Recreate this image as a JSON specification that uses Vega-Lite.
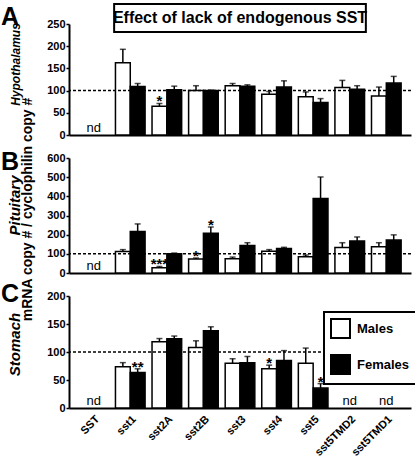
{
  "$schema": "https://vega.github.io/schema/vega-lite/v6.json",
  "background": "white",
  "padding": {"left": 0, "top": 3, "right": 0, "bottom": 0},
  "bounds": "flush",
  "spacing": 23,
  "resolve": {"scale": {"x": "independent", "y": "independent", "fill": "independent"}, "legend": {"fill": "independent"}},
  "config": {
    "font": "Liberation Sans",
    "view": {"stroke": null},
    "axis": {"labelFontWeight": "bold", "labelFontSize": 11, "labelColor": "black", "labelOverlap": false, "labelBound": false, "domainColor": "black", "domainWidth": 2, "tickColor": "black", "tickWidth": 1.5, "tickSize": 3, "labelPadding": 1, "grid": false, "titleColor": "black", "titleFontWeight": "bold"},
    "legend": {"strokeWidth": 2},
    "text": {"color": "black"}
  },
  "datasets": {
    "hypo": [
      {"gene": "sst1", "sex": "Males", "value": 163, "upper": 193},
      {"gene": "sst1", "sex": "Females", "value": 109, "upper": 116},
      {"gene": "sst2A", "sex": "Males", "value": 65, "upper": 71, "star": "*"},
      {"gene": "sst2A", "sex": "Females", "value": 102, "upper": 110},
      {"gene": "sst2B", "sex": "Males", "value": 100, "upper": 111},
      {"gene": "sst2B", "sex": "Females", "value": 100, "upper": 101},
      {"gene": "sst3", "sex": "Males", "value": 111, "upper": 116},
      {"gene": "sst3", "sex": "Females", "value": 110, "upper": 113},
      {"gene": "sst4", "sex": "Males", "value": 92, "upper": 98},
      {"gene": "sst4", "sex": "Females", "value": 108, "upper": 122},
      {"gene": "sst5", "sex": "Males", "value": 86, "upper": 97},
      {"gene": "sst5", "sex": "Females", "value": 73, "upper": 82},
      {"gene": "sst5TMD2", "sex": "Males", "value": 107, "upper": 123},
      {"gene": "sst5TMD2", "sex": "Females", "value": 103, "upper": 111},
      {"gene": "sst5TMD1", "sex": "Males", "value": 88, "upper": 108},
      {"gene": "sst5TMD1", "sex": "Females", "value": 117, "upper": 132}
    ],
    "pit": [
      {"gene": "sst1", "sex": "Males", "value": 112, "upper": 122},
      {"gene": "sst1", "sex": "Females", "value": 217, "upper": 256},
      {"gene": "sst2A", "sex": "Males", "value": 27, "upper": 34, "star": "***"},
      {"gene": "sst2A", "sex": "Females", "value": 101, "upper": 104},
      {"gene": "sst2B", "sex": "Males", "value": 73, "upper": 78, "star": "*"},
      {"gene": "sst2B", "sex": "Females", "value": 208, "upper": 240, "star": "*"},
      {"gene": "sst3", "sex": "Males", "value": 75, "upper": 83},
      {"gene": "sst3", "sex": "Females", "value": 144, "upper": 158},
      {"gene": "sst4", "sex": "Males", "value": 114, "upper": 122},
      {"gene": "sst4", "sex": "Females", "value": 128, "upper": 134},
      {"gene": "sst5", "sex": "Males", "value": 85, "upper": 94},
      {"gene": "sst5", "sex": "Females", "value": 389, "upper": 501},
      {"gene": "sst5TMD2", "sex": "Males", "value": 133, "upper": 158},
      {"gene": "sst5TMD2", "sex": "Females", "value": 167, "upper": 188},
      {"gene": "sst5TMD1", "sex": "Males", "value": 137, "upper": 158},
      {"gene": "sst5TMD1", "sex": "Females", "value": 172, "upper": 199}
    ],
    "stom": [
      {"gene": "sst1", "sex": "Males", "value": 73.5, "upper": 81},
      {"gene": "sst1", "sex": "Females", "value": 63.5, "upper": 70, "star": "**"},
      {"gene": "sst2A", "sex": "Males", "value": 118.5, "upper": 124},
      {"gene": "sst2A", "sex": "Females", "value": 123.5, "upper": 128.5},
      {"gene": "sst2B", "sex": "Males", "value": 108, "upper": 120},
      {"gene": "sst2B", "sex": "Females", "value": 138, "upper": 145},
      {"gene": "sst3", "sex": "Males", "value": 80, "upper": 88},
      {"gene": "sst3", "sex": "Females", "value": 81, "upper": 92},
      {"gene": "sst4", "sex": "Males", "value": 70, "upper": 76.5, "star": "*"},
      {"gene": "sst4", "sex": "Females", "value": 85, "upper": 102.5},
      {"gene": "sst5", "sex": "Males", "value": 80, "upper": 107},
      {"gene": "sst5", "sex": "Females", "value": 35.5, "upper": 43.5, "star": "*"}
    ],
    "ndA": [{"gene": "SST", "t": "nd"}],
    "ndB": [{"gene": "SST", "t": "nd"}],
    "ndC": [{"gene": "SST", "t": "nd"}, {"gene": "sst5TMD2", "t": "nd"}, {"gene": "sst5TMD1", "t": "nd"}],
    "one": [{"ref": 100}]
  },
  "vconcat": [
    {
      "width": 342, "height": 111,
      "resolve": {"scale": {"x": "independent"}, "axis": {"y": "independent"}},
      "layer": [
        {
          "data": {"name": "hypo"},
          "resolve": {"axis": {"y": "independent"}},
          "encoding": {"x": {"field": "gene", "type": "nominal", "scale": {"domain": ["SST","sst1","sst2A","sst2B","sst3","sst4","sst5","sst5TMD2","sst5TMD1"], "paddingInner": 0.19, "paddingOuter": 0.27}, "axis": {"labels": false, "ticks": false, "title": null}}},
          "layer": [
            {"mark": {"type": "bar", "stroke": "black", "strokeWidth": 1.5},
             "encoding": {
               "xOffset": {"field": "sex", "type": "nominal", "scale": {"domain": ["Males", "Females"], "paddingInner": 0, "paddingOuter": 0}},
               "y": {"field": "value", "type": "quantitative", "scale": {"domain": [0, 250], "nice": false}, "axis": {"orient": "left", "values": [0, 50, 100, 150, 200, 250], "title": "Hypothalamus", "titleFontStyle": "italic", "titleFontSize": 12, "titleAngle": 270, "titleX": -50, "titleY": 40, "titleAlign": "center", "titleBaseline": "alphabetic"}},
               "fill": {"field": "sex", "type": "nominal", "scale": {"domain": ["Males", "Females"], "range": ["white", "black"]}, "legend": null}}},
            {"mark": {"type": "rule", "color": "black", "strokeWidth": 1.5},
             "encoding": {"xOffset": {"field": "sex", "type": "nominal", "scale": {"domain": ["Males", "Females"], "paddingInner": 0, "paddingOuter": 0}}, "y": {"field": "value", "type": "quantitative", "axis": null}, "y2": {"field": "upper"}}},
            {"mark": {"type": "tick", "color": "black", "thickness": 1.5, "size": 6},
             "encoding": {"xOffset": {"field": "sex", "type": "nominal", "scale": {"domain": ["Males", "Females"], "paddingInner": 0, "paddingOuter": 0}}, "y": {"field": "upper", "type": "quantitative", "axis": null}}},
            {"transform": [{"filter": "isValid(datum.star)"}],
             "mark": {"type": "text", "fontSize": 15, "fontWeight": "bold", "baseline": "alphabetic", "dy": 3},
             "encoding": {"xOffset": {"field": "sex", "type": "nominal", "scale": {"domain": ["Males", "Females"], "paddingInner": 0, "paddingOuter": 0}}, "y": {"field": "upper", "type": "quantitative", "axis": null}, "text": {"field": "star"}}},
            {"data": {"name": "ndA"},
             "mark": {"type": "text", "fontSize": 13, "baseline": "alphabetic", "dy": -3},
             "encoding": {"y": {"datum": 0, "type": "quantitative", "axis": null}, "text": {"field": "t"}}}
          ]
        },
        {
          "data": {"name": "one"},
          "mark": {"type": "rule", "color": "black", "strokeWidth": 1.5, "strokeDash": [3, 2]},
          "encoding": {"y": {"field": "ref", "type": "quantitative", "axis": null}}
        },
        {
          "data": {"values": [{"label": "Effect of lack of endogenous SST", "letter": "A"}]},
          "layer": [
            {"mark": {"type": "rect", "fill": "white", "stroke": "black", "strokeWidth": 2},
             "encoding": {"x": {"datum": 0.132, "type": "quantitative", "scale": {"domain": [0, 1], "nice": false}, "axis": null}, "x2": {"datum": 0.868},
                          "y": {"datum": 232, "type": "quantitative", "scale": {"domain": [0, 250], "nice": false}, "axis": null}, "y2": {"datum": 295}}},
            {"mark": {"type": "text", "fontSize": 16, "fontWeight": "bold"},
             "encoding": {"x": {"datum": 0.5, "type": "quantitative", "scale": {"domain": [0, 1], "nice": false}, "axis": null},
                          "y": {"datum": 264, "type": "quantitative", "scale": {"domain": [0, 250], "nice": false}, "axis": null}, "text": {"field": "label"}}},
            {"mark": {"type": "text", "fontSize": 25, "fontWeight": "bold", "align": "left", "baseline": "alphabetic"},
             "encoding": {"x": {"datum": -0.199, "type": "quantitative", "scale": {"domain": [0, 1], "nice": false}, "axis": null},
                          "y": {"datum": 247, "type": "quantitative", "scale": {"domain": [0, 250], "nice": false}, "axis": null}, "text": {"field": "letter"}}}
          ]
        }
      ]
    },
    {
      "width": 342, "height": 115,
      "resolve": {"scale": {"x": "independent"}, "axis": {"y": "independent"}},
      "layer": [
        {
          "data": {"name": "pit"},
          "resolve": {"axis": {"y": "independent"}},
          "encoding": {"x": {"field": "gene", "type": "nominal", "scale": {"domain": ["SST","sst1","sst2A","sst2B","sst3","sst4","sst5","sst5TMD2","sst5TMD1"], "paddingInner": 0.19, "paddingOuter": 0.27}, "axis": {"labels": false, "ticks": false, "title": "mRNA copy # / cyclophilin copy #", "titleFontSize": 14, "titleAngle": 270, "titleX": -38, "titleY": -64, "titleAlign": "center", "titleBaseline": "alphabetic"}}},
          "layer": [
            {"mark": {"type": "bar", "stroke": "black", "strokeWidth": 1.5},
             "encoding": {
               "xOffset": {"field": "sex", "type": "nominal", "scale": {"domain": ["Males", "Females"], "paddingInner": 0, "paddingOuter": 0}},
               "y": {"field": "value", "type": "quantitative", "scale": {"domain": [0, 600], "nice": false}, "axis": {"orient": "left", "values": [0, 100, 200, 300, 400, 500, 600], "title": "Pituitary", "titleFontStyle": "italic", "titleFontSize": 15, "titleAngle": 270, "titleX": -50, "titleY": 47, "titleAlign": "center", "titleBaseline": "alphabetic"}},
               "fill": {"field": "sex", "type": "nominal", "scale": {"domain": ["Males", "Females"], "range": ["white", "black"]}, "legend": null}}},
            {"mark": {"type": "rule", "color": "black", "strokeWidth": 1.5},
             "encoding": {"xOffset": {"field": "sex", "type": "nominal", "scale": {"domain": ["Males", "Females"], "paddingInner": 0, "paddingOuter": 0}}, "y": {"field": "value", "type": "quantitative", "axis": null}, "y2": {"field": "upper"}}},
            {"mark": {"type": "tick", "color": "black", "thickness": 1.5, "size": 6},
             "encoding": {"xOffset": {"field": "sex", "type": "nominal", "scale": {"domain": ["Males", "Females"], "paddingInner": 0, "paddingOuter": 0}}, "y": {"field": "upper", "type": "quantitative", "axis": null}}},
            {"transform": [{"filter": "isValid(datum.star)"}],
             "mark": {"type": "text", "fontSize": 15, "fontWeight": "bold", "baseline": "alphabetic", "dy": 3},
             "encoding": {"xOffset": {"field": "sex", "type": "nominal", "scale": {"domain": ["Males", "Females"], "paddingInner": 0, "paddingOuter": 0}}, "y": {"field": "upper", "type": "quantitative", "axis": null}, "text": {"field": "star"}}},
            {"data": {"name": "ndB"},
             "mark": {"type": "text", "fontSize": 13, "baseline": "alphabetic", "dy": -3},
             "encoding": {"y": {"datum": 0, "type": "quantitative", "axis": null}, "text": {"field": "t"}}}
          ]
        },
        {
          "data": {"name": "one"},
          "mark": {"type": "rule", "color": "black", "strokeWidth": 1.5, "strokeDash": [3, 2]},
          "encoding": {"y": {"field": "ref", "type": "quantitative", "axis": null}}
        },
        {
          "data": {"values": [{"letter": "B"}]},
          "mark": {"type": "text", "fontSize": 25, "fontWeight": "bold", "align": "left", "baseline": "alphabetic"},
          "encoding": {"x": {"datum": -0.199, "type": "quantitative", "scale": {"domain": [0, 1], "nice": false}, "axis": null},
                       "y": {"datum": 537, "type": "quantitative", "scale": {"domain": [0, 600], "nice": false}, "axis": null}, "text": {"field": "letter"}}
        }
      ]
    },
    {
      "width": 342, "height": 112,
      "resolve": {"scale": {"x": "independent"}, "axis": {"y": "independent"}},
      "layer": [
        {
          "data": {"name": "stom"},
          "resolve": {"axis": {"y": "independent"}},
          "encoding": {"x": {"field": "gene", "type": "nominal", "scale": {"domain": ["SST","sst1","sst2A","sst2B","sst3","sst4","sst5","sst5TMD2","sst5TMD1"], "paddingInner": 0.19, "paddingOuter": 0.27}, "axis": {"ticks": false, "title": null, "labelAngle": -45, "labelAlign": "right", "labelBaseline": "top", "labelPadding": 5, "labelFontSize": 11}}},
          "layer": [
            {"mark": {"type": "bar", "stroke": "black", "strokeWidth": 1.5},
             "encoding": {
               "xOffset": {"field": "sex", "type": "nominal", "scale": {"domain": ["Males", "Females"], "paddingInner": 0, "paddingOuter": 0}},
               "y": {"field": "value", "type": "quantitative", "scale": {"domain": [0, 200], "nice": false}, "axis": {"orient": "left", "values": [0, 50, 100, 150, 200], "title": "Stomach", "titleFontStyle": "italic", "titleFontSize": 15, "titleAngle": 270, "titleX": -50, "titleY": 48, "titleAlign": "center", "titleBaseline": "alphabetic"}},
               "fill": {"field": "sex", "type": "nominal", "scale": {"domain": ["Males", "Females"], "range": ["white", "black"]},
                        "legend": {"orient": "none", "legendX": 255, "legendY": 16, "title": null, "direction": "vertical", "symbolType": "square", "symbolSize": 361, "symbolStrokeColor": "black", "symbolStrokeWidth": 2, "symbolOpacity": 1, "labelFontSize": 13, "labelFontWeight": "bold", "labelColor": "black", "labelOffset": 6, "rowPadding": 9, "padding": 6, "strokeColor": "black", "fillColor": "white"}}}},
            {"mark": {"type": "rule", "color": "black", "strokeWidth": 1.5},
             "encoding": {"xOffset": {"field": "sex", "type": "nominal", "scale": {"domain": ["Males", "Females"], "paddingInner": 0, "paddingOuter": 0}}, "y": {"field": "value", "type": "quantitative", "axis": null}, "y2": {"field": "upper"}}},
            {"mark": {"type": "tick", "color": "black", "thickness": 1.5, "size": 6},
             "encoding": {"xOffset": {"field": "sex", "type": "nominal", "scale": {"domain": ["Males", "Females"], "paddingInner": 0, "paddingOuter": 0}}, "y": {"field": "upper", "type": "quantitative", "axis": null}}},
            {"transform": [{"filter": "isValid(datum.star)"}],
             "mark": {"type": "text", "fontSize": 15, "fontWeight": "bold", "baseline": "alphabetic", "dy": 3},
             "encoding": {"xOffset": {"field": "sex", "type": "nominal", "scale": {"domain": ["Males", "Females"], "paddingInner": 0, "paddingOuter": 0}}, "y": {"field": "upper", "type": "quantitative", "axis": null}, "text": {"field": "star"}}},
            {"data": {"name": "ndC"},
             "mark": {"type": "text", "fontSize": 13, "baseline": "alphabetic", "dy": -3},
             "encoding": {"y": {"datum": 0, "type": "quantitative", "axis": null}, "text": {"field": "t"}}}
          ]
        },
        {
          "data": {"name": "one"},
          "mark": {"type": "rule", "color": "black", "strokeWidth": 1.5, "strokeDash": [3, 2]},
          "encoding": {"y": {"field": "ref", "type": "quantitative", "axis": null}}
        },
        {
          "data": {"values": [{"letter": "C"}]},
          "mark": {"type": "text", "fontSize": 25, "fontWeight": "bold", "align": "left", "baseline": "alphabetic"},
          "encoding": {"x": {"datum": -0.199, "type": "quantitative", "scale": {"domain": [0, 1], "nice": false}, "axis": null},
                       "y": {"datum": 189, "type": "quantitative", "scale": {"domain": [0, 200], "nice": false}, "axis": null}, "text": {"field": "letter"}}
        }
      ]
    }
  ]
}
